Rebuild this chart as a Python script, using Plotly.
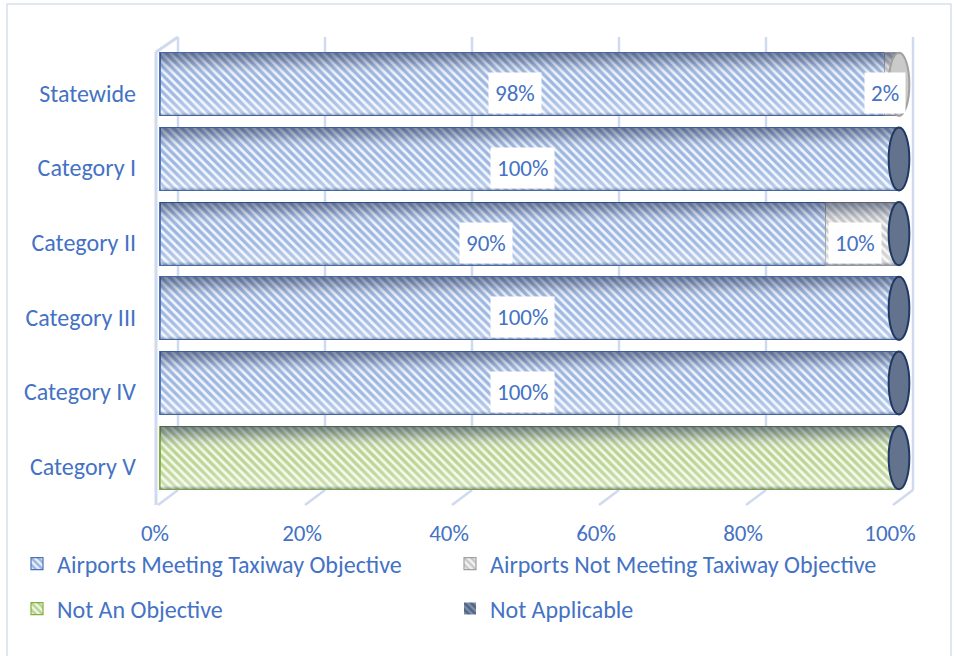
import plotly.graph_objects as go

# ---- data -------------------------------------------------------------
categories = ["Statewide", "Category I", "Category II", "Category III", "Category IV", "Category V"]
meeting = [98, 100, 90, 100, 100, None]
not_meeting = [2, 0, 10, 0, 0, None]
not_objective = [None, None, None, None, None, 100]
not_applicable = [None, 0, 0, 0, 0, 0]
tick_values = [0, 20, 40, 60, 80, 100]
tick_labels = ["0%", "20%", "40%", "60%", "80%", "100%"]

# ---- geometry / style --------------------------------------------------
W, H = 954, 656
ML, MR, MT, MB = 143, 20, 47, 161
PW, PH = W - ML - MR, H - MT - MB
BAR_W = 0.845
ROW_PX = PH / len(categories)
FONT = "Carlito, Lato, sans-serif"
FS = 24
TEXT_BLUE = "#4472C4"
GRID = "#CFDAEE"


def px_x(p):
    return (p - ML) / PW


def px_y(p):
    return 1 - (p - MT) / PH


series = [
    dict(name="Airports Meeting Taxiway Objective", values=meeting, legend="legend",
         fg="#4676C6", bg="#F1F5FC", line="#4A72B8", cap="#9DB5DE"),
    dict(name="Airports Not Meeting Taxiway Objective", values=not_meeting, legend="legend",
         fg="#9C9C9C", bg="#F6F6F6", line="#A0A0A0", cap="#CACACA"),
    dict(name="Not An Objective", values=not_objective, legend="legend2",
         fg="#7FAE3C", bg="#F4F9EA", line="#84AE40", cap="#B9D48E"),
    dict(name="Not Applicable", values=not_applicable, legend="legend2",
         fg="#1F3864", bg="#8392AA", line="#1F3864", cap="#63738D"),
]

rows = list(range(len(categories)))
fig = go.Figure()

for s in series:
    is_na = s["name"] == "Not Applicable"
    xs = [v if (v or is_na) else None for v in s["values"]]
    fig.add_trace(go.Bar(
        name=s["name"], orientation="h", y=rows, x=xs, width=BAR_W,
        legend=s["legend"], xaxis="x", yaxis="y",
        marker=dict(
            color=s["bg"],
            pattern=dict(shape="\\", fgcolor=s["fg"], bgcolor=s["bg"], size=6, solidity=0.55),
            line=dict(color=s["line"], width=0 if is_na else 1.2),
        ),
        hoverinfo="skip",
    ))

# cylinder shading over each stacked bar
h = BAR_W / 2
shapes = []
annotations = []
for i in rows:
    parts = [(s, s["values"][i]) for s in series if s["values"][i] is not None]
    total = sum(v for _, v in parts)
    fig.add_trace(go.Scatter(
        x=[0, total, total, 0, 0], y=[i - h, i - h, i + h, i + h, i - h],
        mode="lines", line=dict(width=0), fill="toself",
        fillgradient=dict(type="vertical", colorscale=[
            [0.0, "rgba(40,60,100,0.45)"],
            [0.06, "rgba(255,255,255,0.30)"],
            [0.3, "rgba(255,255,255,0.08)"],
            [0.6, "rgba(255,255,255,0.0)"],
            [0.85, "rgba(40,55,90,0.28)"],
            [1.0, "rgba(30,45,80,0.55)"],
        ]),
        showlegend=False, hoverinfo="skip", xaxis="x", yaxis="y",
    ))
    # end cap takes the colour of the last series present in the row
    last = parts[-1][0]
    shapes.append(dict(type="circle", xref="x", yref="y",
                       x0=total - 1.4, x1=total + 1.4, y0=i - h, y1=i + h,
                       fillcolor=last["cap"], line=dict(color=last["line"], width=2), layer="above"))
    # value labels (front plane sits slightly lower than the bar axis)
    start = 0
    for s, v in parts:
        if v and s["name"] in ("Airports Meeting Taxiway Objective", "Airports Not Meeting Taxiway Objective"):
            annotations.append(dict(x=start + v / 2, y=i, xref="x", yref="y", text=f"{v}%",
                                    showarrow=False, xshift=-7, yshift=-9, bgcolor="white",
                                    borderpad=6, font=dict(family=FONT, size=FS - 1, color=TEXT_BLUE)))
        start += v

# 3-D wall / gridlines
for k in range(6):
    bx, fx = 178 + 147 * k, 158 + 147 * k
    shapes.append(dict(type="line", xref="paper", yref="paper", x0=px_x(bx), x1=px_x(bx),
                       y0=px_y(37), y1=px_y(490), line=dict(color=GRID, width=2.5), layer="below"))
    shapes.append(dict(type="line", xref="paper", yref="paper", x0=px_x(bx), x1=px_x(fx),
                       y0=px_y(490), y1=px_y(505), line=dict(color=GRID, width=2.5), layer="below"))
shapes.append(dict(type="line", xref="paper", yref="paper", x0=px_x(156), x1=px_x(156),
                   y0=px_y(52), y1=px_y(505), line=dict(color=GRID, width=3), layer="below"))
shapes.append(dict(type="line", xref="paper", yref="paper", x0=px_x(156), x1=px_x(178),
                   y0=px_y(52), y1=px_y(37), line=dict(color=GRID, width=3), layer="below"))
# chart frame
shapes.append(dict(type="rect", xref="paper", yref="paper", x0=px_x(7), x1=px_x(951),
                   y0=px_y(700), y1=px_y(4), line=dict(color="#D6E0F0", width=1.5), layer="below"))

kb = 100 / 739   # bar axis: 0 -> 160 px, 100 -> 899 px
kt = 100 / 735   # label axis: 0 -> 155 px, 100 -> 890 px
dy = 9 / ROW_PX  # category labels sit on the front plane

tick_font = dict(family=FONT, size=FS, color=TEXT_BLUE)
fig.update_layout(
    width=W, height=H, barmode="stack",
    margin=dict(l=ML, r=MR, t=MT, b=MB, autoexpand=False),
    paper_bgcolor="white", plot_bgcolor="white",
    font=dict(family=FONT, size=FS, color=TEXT_BLUE),
    xaxis=dict(range=[(ML - 160) * kb, (W - MR - 160) * kb], showgrid=False, zeroline=False,
               showticklabels=False, showline=False, fixedrange=True),
    xaxis2=dict(range=[(ML - 155) * kt, (W - MR - 155) * kt], overlaying="x", anchor="y",
                side="bottom", tickvals=tick_values, ticktext=tick_labels, showgrid=False,
                zeroline=False, showline=False, ticks="", ticklabelstandoff=22,
                tickfont=dict(family=FONT, size=FS - 1, color=TEXT_BLUE)),
    yaxis=dict(range=[len(categories) - 0.5, -0.5], showgrid=False, zeroline=False,
               showline=False, showticklabels=False),
    yaxis2=dict(range=[len(categories) - 0.5 - dy, -0.5 - dy], overlaying="y", anchor="x",
                side="left", tickvals=rows, ticktext=categories, showgrid=False,
                zeroline=False, showline=False, ticks="", ticklabelstandoff=6,
                tickfont=tick_font),
    legend=dict(orientation="h", x=px_x(17), xanchor="left", y=px_y(564), yanchor="middle",
                entrywidth=388, entrywidthmode="pixels", bgcolor="rgba(0,0,0,0)",
                font=dict(family=FONT, size=FS, color=TEXT_BLUE), traceorder="normal"),
    legend2=dict(orientation="h", x=px_x(17), xanchor="left", y=px_y(609), yanchor="middle",
                 entrywidth=388, entrywidthmode="pixels", bgcolor="rgba(0,0,0,0)",
                 font=dict(family=FONT, size=FS, color=TEXT_BLUE), traceorder="normal"),
    shapes=shapes, annotations=annotations, showlegend=True,
)

# invisible anchors so the label axes are rendered
fig.add_trace(go.Scatter(x=[0, 100], y=[0, 0], xaxis="x2", yaxis="y", mode="markers",
                         marker=dict(opacity=0), showlegend=False, hoverinfo="skip"))
fig.add_trace(go.Scatter(x=[0, 0], y=[0, 5], xaxis="x", yaxis="y2", mode="markers",
                         marker=dict(opacity=0), showlegend=False, hoverinfo="skip"))

fig.write_html("out.html")
